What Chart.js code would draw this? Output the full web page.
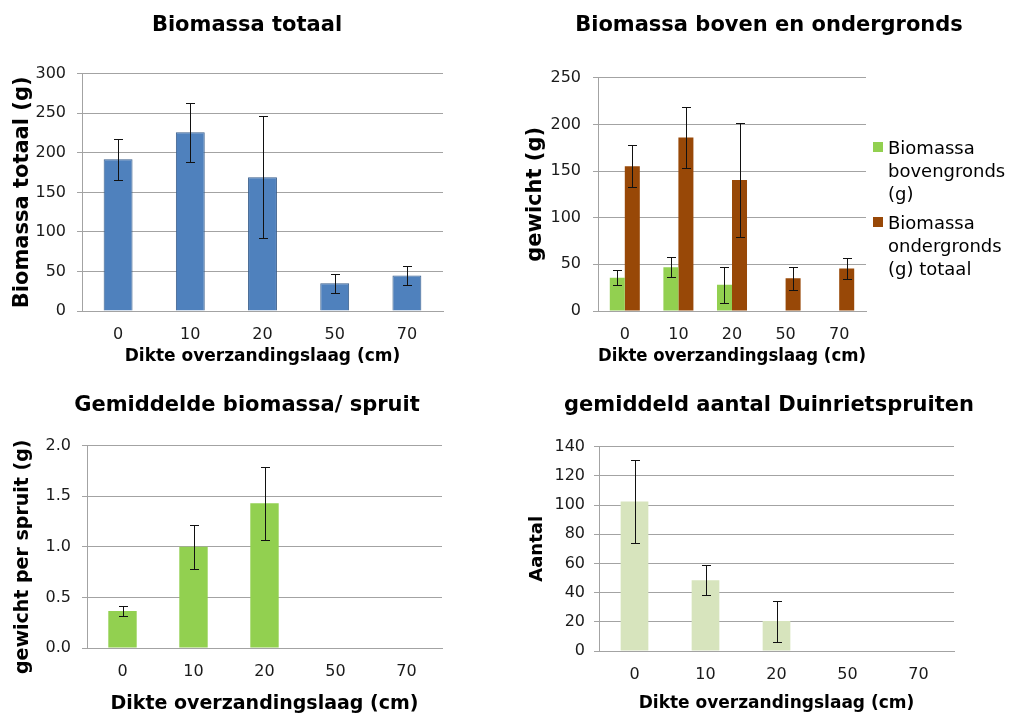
<!DOCTYPE html>
<html>
<head>
<meta charset="utf-8">
<script src="https://cdn.jsdelivr.net/npm/chart.js@4"></script>
<style>
  html, body { margin: 0; padding: 0; background: #fff; overflow: hidden; width: 1012px; height: 713px; }
  canvas { position: absolute; }
  #legend2 { position: absolute; left: 873px; top: 136px; font-family: 'DejaVu Sans', Verdana, sans-serif; font-size: 18px; line-height: 23px; color: #000; }
  #legend2 .item { position: relative; padding-left: 15px; width: 130px; margin-bottom: 6px; }
  #legend2 .box { position: absolute; left: 0; top: 6px; width: 10px; height: 10px; }
</style>
</head>
<body>
<canvas id="c1" width="494" height="370" style="left:0;top:0"></canvas>
<canvas id="c2" width="498" height="370" style="left:520px;top:0"></canvas>
<canvas id="c3" width="494" height="340" style="left:0;top:380px"></canvas>
<canvas id="c4" width="498" height="340" style="left:520px;top:380px"></canvas>
<div id="legend2"></div>
<script>
// categories: dikte overzandingslaag (cm)
var categories = ['0', '10', '20', '50', '70'];

// Biomassa totaal
var totaal = [192, 226, 169, 35, 45];
var totaalErr = [26, 37.5, 77, 12, 11.5];

// Biomassa boven- en ondergronds
var boven = [35.5, 47, 28, null, null];
var bovenErr = [8, 10.5, 19, null, null];
var onder = [155, 186, 140.5, 35, 45.5];
var onderErr = [22.5, 32.5, 61, 12, 11.3];

// Gemiddelde biomassa per spruit
var perSpruit = [0.365, 1.0, 1.43, null, null];
var perSpruitErr = [0.05, 0.215, 0.36, null, null];

// gemiddeld aantal spruiten
var aantal = [102.5, 48.5, 20.5, null, null];
var aantalErr = [28.5, 10.2, 14, null, null];

var FONT = "'DejaVu Sans', Verdana, sans-serif";
var GRID = '#a3a3a3';

// draws the error bars from dataset.errors through the y scale
var errorBars = {
    id: 'errorBars',
    afterDatasetsDraw: function(chart) {
        var ctx = chart.ctx;
        var y = chart.scales.y;
        ctx.save();
        ctx.strokeStyle = '#111';
        ctx.lineWidth = 1;
        chart.data.datasets.forEach(function(ds, i) {
            if (!ds.errors) return;
            var meta = chart.getDatasetMeta(i);
            meta.data.forEach(function(bar, j) {
                var v = ds.data[j], e = ds.errors[j];
                if (v == null || e == null) return;
                var x = Math.round(bar.x) + 0.5;
                var top = Math.round(y.getPixelForValue(v + e)) + 0.5;
                var bot = Math.round(y.getPixelForValue(v - e)) + 0.5;
                ctx.beginPath();
                ctx.moveTo(x, top); ctx.lineTo(x, bot);
                ctx.moveTo(x - 4.5, top); ctx.lineTo(x + 4.5, top);
                ctx.moveTo(x - 4.5, bot); ctx.lineTo(x + 4.5, bot);
                ctx.stroke();
            });
        });
        ctx.restore();
    }
};

function makeOptions(p) {
    return {
        responsive: false,
        animation: false,
        devicePixelRatio: 1,
        layout: { padding: 0 },
        plugins: {
            legend: { display: false },
            tooltip: { enabled: false },
            title: {
                display: true,
                text: p.title,
                color: '#000',
                font: { family: FONT, size: 21, weight: 'bold' },
                padding: { top: 12.5, bottom: p.titleBottom }
            }
        },
        scales: {
            x: {
                offset: true,
                grid: { display: false, drawTicks: false },
                border: { display: true, color: GRID },
                ticks: { color: '#1a1a1a', font: { family: FONT, size: 16 }, padding: p.xTickPad, maxRotation: 0 },
                title: {
                    display: true,
                    text: 'Dikte overzandingslaag (cm)',
                    color: '#000',
                    font: { family: FONT, size: p.xTitleSize, weight: 'bold' },
                    padding: { top: 0, bottom: p.xTitlePad }
                },
                afterFit: function(s) { s.height = p.xHeight; }
            },
            y: {
                min: 0,
                max: p.max,
                grid: { color: GRID, tickLength: 5, drawTicks: true, tickColor: GRID },
                border: { display: true, color: GRID },
                ticks: {
                    stepSize: p.step,
                    color: '#1a1a1a',
                    font: { family: FONT, size: 16 },
                    padding: p.yTickPad,
                    callback: p.tickFmt || function(v) { return v; }
                },
                title: {
                    display: true,
                    text: p.yTitle,
                    color: '#000',
                    font: { family: FONT, size: p.yTitleSize, weight: 'bold' },
                    padding: { top: p.yTitlePad, bottom: 0 }
                },
                afterFit: function(s) { s.width = p.yWidth; }
            },
            spacer: {
                type: 'linear',
                position: 'right',
                display: true,
                grid: { display: false },
                border: { display: false },
                ticks: { display: false },
                afterFit: function(s) { s.width = p.rightPad; }
            }
        }
    };
}

// 1. Biomassa totaal
new Chart(document.getElementById('c1'), {
    type: 'bar',
    data: {
        labels: categories,
        datasets: [{
            label: 'Biomassa totaal',
            data: totaal,
            errors: totaalErr,
            backgroundColor: '#4f81bd',
            borderColor: '#385d8a',
            borderWidth: 1,
            barPercentage: 0.4,
            categoryPercentage: 1
        }]
    },
    options: makeOptions({
        title: 'Biomassa totaal', titleBottom: 36,
        max: 300, step: 50, yTitle: 'Biomassa totaal (g)', yTitleSize: 21, yTitlePad: 10,
        yWidth: 82, yTickPad: 11, xHeight: 59, xTickPad: 14, xTitleSize: 17, xTitlePad: 3,
        rightPad: 51
    }),
    plugins: [errorBars]
});

// 2. Biomassa boven en ondergronds
var chart2 = new Chart(document.getElementById('c2'), {
    type: 'bar',
    data: {
        labels: categories,
        datasets: [{
            label: 'Biomassa bovengronds (g)',
            data: boven,
            errors: bovenErr,
            backgroundColor: '#92d050',
            barPercentage: 1,
            categoryPercentage: 0.56
        }, {
            label: 'Biomassa ondergronds (g) totaal',
            data: onder,
            errors: onderErr,
            backgroundColor: '#984807',
            barPercentage: 1,
            categoryPercentage: 0.56
        }]
    },
    options: makeOptions({
        title: 'Biomassa boven en ondergronds', titleBottom: 40,
        max: 250, step: 50, yTitle: 'gewicht (g)', yTitleSize: 21, yTitlePad: 3,
        yWidth: 78, yTickPad: 12, xHeight: 59, xTickPad: 14, xTitleSize: 17, xTitlePad: 3,
        rightPad: 152
    }),
    plugins: [errorBars]
});

// legend for chart 2, built from its datasets
var legendEl = document.getElementById('legend2');
chart2.data.datasets.forEach(function(ds) {
    var item = document.createElement('div');
    item.className = 'item';
    var box = document.createElement('span');
    box.className = 'box';
    box.style.background = ds.backgroundColor;
    item.appendChild(box);
    item.appendChild(document.createTextNode(ds.label));
    legendEl.appendChild(item);
});

// 3. Gemiddelde biomassa per spruit
new Chart(document.getElementById('c3'), {
    type: 'bar',
    data: {
        labels: categories,
        datasets: [{
            label: 'Gemiddelde biomassa/ spruit',
            data: perSpruit,
            errors: perSpruitErr,
            backgroundColor: '#92d050',
            barPercentage: 0.4,
            categoryPercentage: 1
        }]
    },
    options: makeOptions({
        title: 'Gemiddelde biomassa/ spruit', titleBottom: 28,
        max: 2, step: 0.5, yTitle: 'gewicht per spruit (g)\u00a0\u00a0\u00a0', yTitleSize: 19, yTitlePad: 12,
        yWidth: 87, yTickPad: 11, xHeight: 72, xTickPad: 14, xTitleSize: 19, xTitlePad: 5,
        rightPad: 52, tickFmt: function(v) { return v.toFixed(1); }
    }),
    plugins: [errorBars]
});

// 4. gemiddeld aantal Duinrietspruiten
new Chart(document.getElementById('c4'), {
    type: 'bar',
    data: {
        labels: categories,
        datasets: [{
            label: 'gemiddeld aantal Duinrietspruiten',
            data: aantal,
            errors: aantalErr,
            backgroundColor: '#d7e4bd',
            barPercentage: 0.39,
            categoryPercentage: 1
        }]
    },
    options: makeOptions({
        title: 'gemiddeld aantal Duinrietspruiten', titleBottom: 29,
        max: 140, step: 20, yTitle: 'Aantal', yTitleSize: 18, yTitlePad: 7,
        yWidth: 79, yTickPad: 9, xHeight: 69, xTickPad: 14, xTitleSize: 17, xTitlePad: 6,
        rightPad: 64
    }),
    plugins: [errorBars]
});
</script>
</body>
</html>
